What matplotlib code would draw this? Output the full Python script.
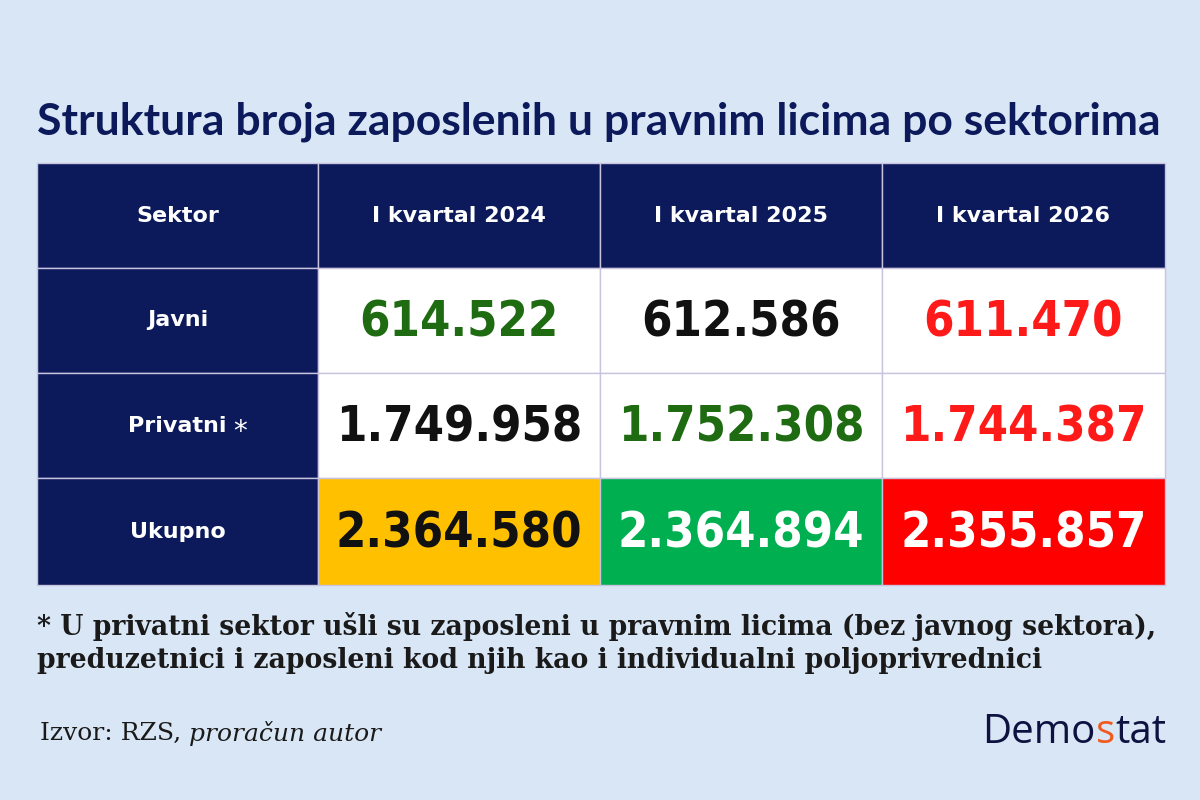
import matplotlib.pyplot as plt
from matplotlib.patches import Rectangle

bg_color = "#d9e6f5"
navy = "#0c1a5b"
grid_color = "#c9c3dd"

title = "Struktura broja zaposlenih u pravnim licima po sektorima"
columns = ["Sektor", "I kvartal 2024", "I kvartal 2025", "I kvartal 2026"]
sectors = ["Javni", "Privatni", "Ukupno"]
javni = ["614.522", "612.586", "611.470"]
privatni = ["1.749.958", "1.752.308", "1.744.387"]
ukupno = ["2.364.580", "2.364.894", "2.355.857"]
values = [javni, privatni, ukupno]

# text colour and cell colour per value cell
text_colors = [["#1e6b12", "#111111", "#ff1a1a"],
               ["#111111", "#1e6b12", "#ff1a1a"],
               ["#111111", "#ffffff", "#ffffff"]]
cell_colors = [["white", "white", "white"],
               ["white", "white", "white"],
               ["#ffc000", "#00b050", "#ff0000"]]

footnote = ("* U privatni sektor ušli su zaposleni u pravnim licima (bez javnog sektora),\n"
            "preduzetnici i zaposleni kod njih kao i individualni poljoprivrednici")

fig = plt.figure(figsize=(12, 8), dpi=100, facecolor=bg_color)
ax = fig.add_axes([0, 0, 1, 1])
ax.set_xlim(0, 1200)
ax.set_ylim(800, 0)
ax.axis("off")

x_edges = [37, 318, 600, 882, 1165]
y_edges = [163, 268, 373, 478, 585]

ax.text(37, 122, title, fontsize=32, fontweight="bold", color=navy,
        family="Lato", va="center", ha="left")

# header row
for j, col in enumerate(columns):
    x0, x1 = x_edges[j], x_edges[j + 1]
    ax.add_patch(Rectangle((x0, y_edges[0]), x1 - x0, y_edges[1] - y_edges[0],
                           facecolor=navy, edgecolor=grid_color, lw=1))
    ax.text((x0 + x1) / 2, (y_edges[0] + y_edges[1]) / 2, col, color="white",
            fontsize=16, fontweight="bold", family="DejaVu Sans",
            ha="center", va="center")

for i, sec in enumerate(sectors):
    y0, y1 = y_edges[i + 1], y_edges[i + 2]
    ax.add_patch(Rectangle((x_edges[0], y0), x_edges[1] - x_edges[0], y1 - y0,
                           facecolor=navy, edgecolor=grid_color, lw=1))
    ax.text((x_edges[0] + x_edges[1]) / 2, (y0 + y1) / 2, sec, color="white",
            fontsize=16, fontweight="bold", family="DejaVu Sans",
            ha="center", va="center")
    if sec == "Privatni":
        ax.text(233, (y0 + y1) / 2 + 6, "*", color="white", fontsize=20,
                ha="left", va="center")
    for j in range(3):
        x0, x1 = x_edges[j + 1], x_edges[j + 2]
        ax.add_patch(Rectangle((x0, y0), x1 - x0, y1 - y0,
                               facecolor=cell_colors[i][j], edgecolor=grid_color, lw=1))
        ax.text((x0 + x1) / 2, (y0 + y1) / 2 + 2, values[i][j], color=text_colors[i][j],
                fontsize=35, fontweight="bold", family="DejaVu Sans",
                fontstretch="condensed", ha="center", va="center")

ax.text(37, 643, footnote, fontsize=19.2, fontweight="bold", color="#1a1a1a",
        family="DejaVu Serif", va="center", ha="left", linespacing=1.3)

fig.canvas.draw()
renderer = fig.canvas.get_renderer()
inv = ax.transData.inverted()


def right_edge(t):
    bb = t.get_window_extent(renderer)
    return inv.transform((bb.x1, bb.y0))[0]


t1 = ax.text(40, 733, "Izvor: RZS, ", fontsize=18, color="#1a1a1a",
             family="DejaVu Serif", va="center", ha="left")
ax.text(right_edge(t1), 733, "proračun autor", fontsize=18, color="#1a1a1a",
        style="italic", family="DejaVu Serif", va="center", ha="left")

# logo
la = ax.text(960, 733, "Demo", fontsize=29, color="#0d1240", family="Open Sans",
             ha="left", va="center")
lb = ax.text(right_edge(la), 733, "s", fontsize=29, color="#f05a1e",
             family="Open Sans", ha="left", va="center")
lc = ax.text(right_edge(lb), 733, "tat", fontsize=29, color="#0d1240",
             family="Open Sans", ha="left", va="center")
fig.canvas.draw()
shift = 1166 - right_edge(lc)
for t in (la, lb, lc):
    t.set_x(t.get_position()[0] + shift)

fig.savefig("out.png", dpi=100, facecolor=bg_color)
